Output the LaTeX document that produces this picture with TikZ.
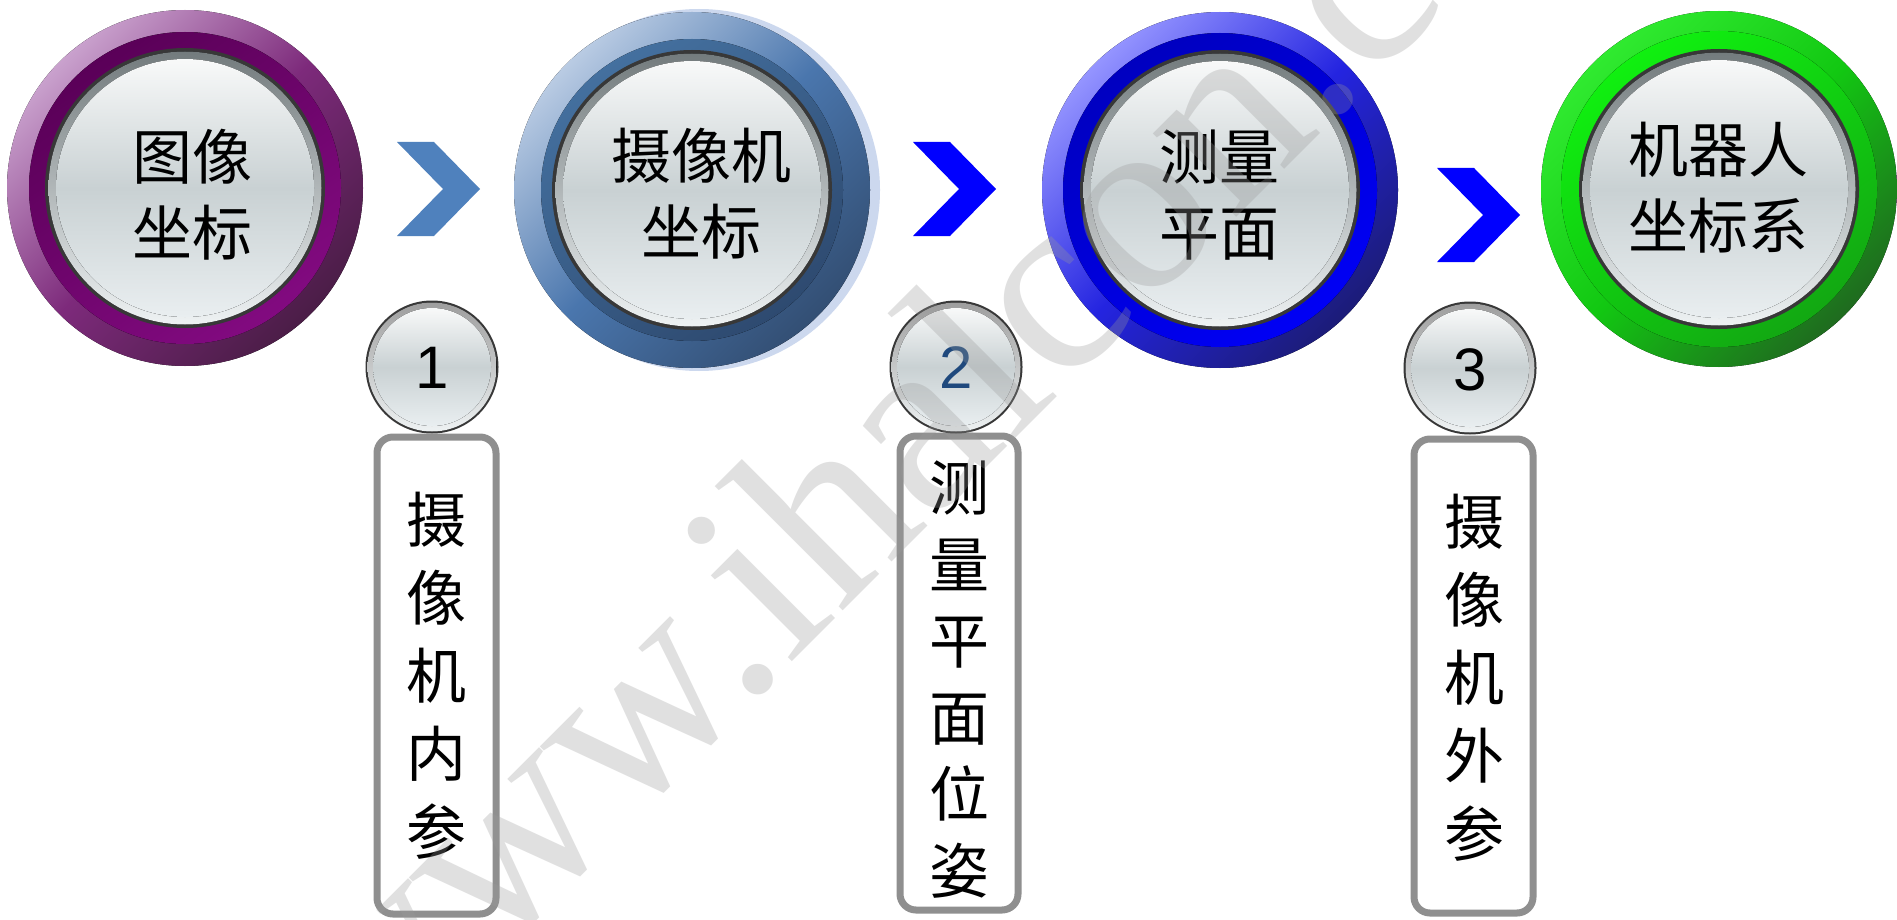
\documentclass[tikz,border=0pt]{standalone}
\usepackage{fontspec}
\setmainfont{Liberation Sans}
\newfontfamily\cjkfont{Noto Sans CJK SC}
\newfontfamily\wmfont{Liberation Serif}
\definecolor{chevA}{HTML}{4F81BD}
\definecolor{chevB}{HTML}{0000FF}
\definecolor{rimtop}{HTML}{737B7D}
\definecolor{rimbot}{HTML}{EEF2F3}
\definecolor{facetop}{HTML}{F8F9F9}
\definecolor{facemid}{HTML}{C9D1D3}
\definecolor{facebot}{HTML}{E9EEF0}
\definecolor{outl}{HTML}{383838}
\definecolor{boxgray}{HTML}{8F8F8F}
\definecolor{numblue}{HTML}{1F497D}
% purple
\definecolor{pA}{HTML}{C9A1CD}\definecolor{pB}{HTML}{7D2A7B}\definecolor{pC}{HTML}{4B1D47}
\definecolor{pD}{HTML}{5A0058}\definecolor{pE}{HTML}{820A80}
% steel blue
\definecolor{sA}{HTML}{B9CBE3}\definecolor{sB}{HTML}{4A76AD}\definecolor{sC}{HTML}{334F74}
\definecolor{sD}{HTML}{44709F}\definecolor{sE}{HTML}{2E4A70}\definecolor{sG}{HTML}{CCD8EE}
% blue
\definecolor{bA}{HTML}{9494FF}\definecolor{bB}{HTML}{2424E0}\definecolor{bC}{HTML}{1C1C78}
\definecolor{bD}{HTML}{0000C0}\definecolor{bE}{HTML}{0000F5}
% green
\definecolor{gA}{HTML}{30EA30}\definecolor{gB}{HTML}{12C812}\definecolor{gC}{HTML}{1F6B1F}
\definecolor{gD}{HTML}{10F010}\definecolor{gE}{HTML}{12A812}
\tikzset{
  ring/.style n args={3}{top color=#1, bottom color=#3, middle color=#2, shading angle=45},
  band/.style 2 args={top color=#1, bottom color=#2, shading angle=35},
  rimshade/.style={top color=rimtop, bottom color=rimbot},
  faceshade/.style={top color=facetop, bottom color=facebot, middle color=facemid},
  bigtext/.style={font=\cjkfont\fontsize{60}{76}\selectfont, align=center, inner sep=0pt, text=black},
  boxtext/.style={font=\cjkfont\fontsize{60}{78}\selectfont, align=center, inner sep=0pt, text=black},
  boxtextb/.style={font=\cjkfont\fontsize{60}{76.6}\selectfont, align=center, inner sep=0pt, text=black},
  numtext/.style={font=\fontsize{60}{60}\selectfont, inner sep=0pt},
  boxframe/.style={draw=boxgray, line width=7pt, fill=white, rounded corners=16pt},
  wmark/.style={font=\wmfont\fontsize{257}{300}\selectfont, text=black!40, opacity=0.3, inner sep=0pt},
}
\newcommand\bigbutton[7]{%
  \fill[ring={#2}{#3}{#4}] (#1) circle[radius=178];
  \fill[band={#5}{#6}] (#1) circle[radius=#7];
  \fill[outl] (#1) circle[radius=140];
  \fill[rimshade] (#1) circle[radius=136.5];
  \fill[faceshade] (#1) circle[radius=129];
}
\newcommand\numbutton[1]{%
  \fill[outl] (#1) circle[radius=66.5];
  \fill[top color=black!38, bottom color=rimbot] (#1) circle[radius=64.5];
  \fill[faceshade] (#1) circle[radius=59];
}
\newcommand\chevshape[3]{%
  \fill[#1] (#2,#3) -- ++(37,0) -- ++(46,47) -- ++(-46,47) -- ++(-37,0) -- ++(46,-47) -- cycle;
}
\begin{document}
\begin{tikzpicture}[x=1pt,y=-1pt]
\useasboundingbox (0,0) rectangle (1897,920);
\fill[white] (0,0) rectangle (1897,920);

% centres
\coordinate (c1) at (185,188);
\coordinate (c2) at (692,190);
\coordinate (c3) at (1220,190);
\coordinate (c4) at (1719,189);
\coordinate (g2) at (699,190);
\coordinate (n1c) at (432,367);
\coordinate (n2c) at (956,367);
\coordinate (n3c) at (1470,368);

% big buttons
\bigbutton{c1}{pA}{pB}{pC}{pD}{pE}{156}
\fill[sG] (g2) circle[radius=181];
\bigbutton{c2}{sA}{sB}{sC}{sD}{sE}{151}
\bigbutton{c3}{bA}{bB}{bC}{bD}{bE}{157}
\bigbutton{c4}{gA}{gB}{gC}{gD}{gE}{158}

\node[bigtext] (t1) at (192,195) {图像\\坐标};
\node[bigtext] (t2) at (701,194) {摄像机\\坐标};
\node[bigtext] (t3) at (1219,195) {测量\\平面};
\node[bigtext] (t4) at (1718,188) {机器人\\坐标系};

% chevrons
\chevshape{chevA}{397}{142}
\chevshape{chevB}{913}{142}
\chevshape{chevB}{1437}{168}

% boxes
\draw[boxframe] (377,437) rectangle (496,914);
\draw[boxframe] (900,436) rectangle (1018,910);
\draw[boxframe] (1414,439) rectangle (1533,913);
\node[boxtext] (b1) at (436.5,676) {摄\\像\\机\\内\\参};
\node[boxtextb] (b2) at (959,679.5) {测\\量\\平\\面\\位\\姿};
\node[boxtext] (b3) at (1474,677.5) {摄\\像\\机\\外\\参};

% number buttons
\numbutton{n1c}
\numbutton{n2c}
\numbutton{n3c}
\node[numtext, text=black] (n1) at (432,368) {1};
\node[numtext, text=numblue] (n2) at (956,368) {2};
\node[numtext, text=black] (n3) at (1470,370) {3};

% watermark
\begin{scope}
\clip (0,0) rectangle (1897,920);
\node[wmark, rotate=45, anchor=base west] (wm) at (361,1093) {www.ihalcon.com};
\end{scope}
\end{tikzpicture}
\end{document}
